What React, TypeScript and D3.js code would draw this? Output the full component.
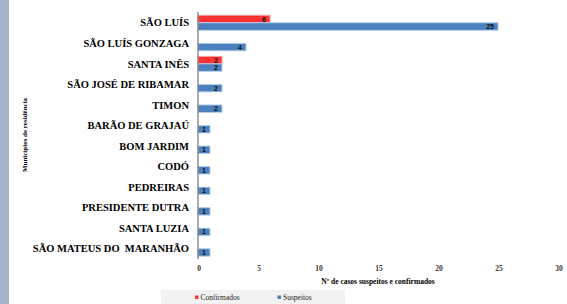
import React from "react";
import * as d3 from "d3";

const categories = [
  "SÃO LUÍS",
  "SÃO LUÍS GONZAGA",
  "SANTA INÊS",
  "SÃO JOSÉ DE RIBAMAR",
  "TIMON",
  "BARÃO DE GRAJAÚ",
  "BOM JARDIM",
  "CODÓ",
  "PEDREIRAS",
  "PRESIDENTE DUTRA",
  "SANTA LUZIA",
  "SÃO MATEUS DO  MARANHÃO",
];
const confirmados: (number | null)[] = [6, null, 2, null, null, null, null, null, null, null, null, null];
const suspeitos: (number | null)[] = [25, 4, 2, 2, 2, 1, 1, 1, 1, 1, 1, 1];
const seriesNames = ["Confirmados", "Suspeitos"];
const xTicks = [0, 5, 10, 15, 20, 25, 30];

const W = 567;
const H = 304;
const colors: Record<string, string> = { Confirmados: "#ff3333", Suspeitos: "#4a80bd" };
const strokes: Record<string, string> = { Confirmados: "#ffa0a0", Suspeitos: "#b9d0ea" };

export default function App() {
  const x = d3.scaleLinear().domain([0, 30]).range([198, 558]);
  const y = d3.scaleBand<string>().domain(categories).range([12.5, 259]).padding(0);
  const inner = d3
    .scaleBand<string>()
    .domain(seriesNames)
    .range([0, y.bandwidth()])
    .paddingOuter(0.37)
    .paddingInner(0);
  const serif = "Liberation Serif, Tinos, Times New Roman, Noto Serif, DejaVu Serif, serif";
  const sans = "Liberation Sans, Arial, sans-serif";
  const data: Record<string, (number | null)[]> = { Confirmados: confirmados, Suspeitos: suspeitos };

  return (
    <div style={{ position: "fixed", left: 0, top: 0, width: W, height: H, background: "#fff" }}>
      <svg width={W} height={H} style={{ display: "block", fontFamily: serif }}>
        <rect x={0} y={0} width={W} height={H} fill="#ffffff" />
        <rect x={0} y={0} width={9} height={H} fill="#a0b4c8" />
        {categories.map((c) => (
          <text
            key={c}
            x={189}
            y={(y(c) ?? 0) + y.bandwidth() / 2}
            dy="0.35em"
            textAnchor="end"
            style={{ fontFamily: serif, whiteSpace: "pre" }}
            fontWeight="bold"
            fontSize={10.5}
            fill="#000"
          >
            {c}
          </text>
        ))}
        {seriesNames.map((s) =>
          categories.map((c, i) => {
            const v = data[s][i];
            if (v == null) return null;
            const by = (y(c) ?? 0) + (inner(s) ?? 0);
            const bh = inner.bandwidth();
            return (
              <g key={s + c}>
                <rect
                  x={x(0)}
                  y={by}
                  width={x(v) - x(0)}
                  height={bh}
                  fill={colors[s]}
                  stroke={strokes[s]}
                  strokeWidth={0.9}
                />
                <text
                  x={x(v) - 4}
                  y={by + bh / 2}
                  dy="0.36em"
                  textAnchor="end"
                  style={{ fontFamily: sans }}
                  fontWeight="bold"
                  fontSize={7}
                  fill="#111"
                >
                  {v}
                </text>
              </g>
            );
          })
        )}
        <line x1={x(0)} x2={x(0)} y1={12} y2={259} stroke="#7f7f7f" strokeWidth={1.3} />
        {xTicks.map((t) => (
          <text
            key={t}
            x={x(t) + 1}
            y={268}
            dy="0.35em"
            textAnchor="middle"
            style={{ fontFamily: serif }}
            fontWeight="bold"
            fontSize={7.5}
            fill="#333"
          >
            {t}
          </text>
        ))}
        <text
          x={378}
          y={281}
          dy="0.35em"
          textAnchor="middle"
          style={{ fontFamily: serif }}
          fontWeight="bold"
          fontSize={7.5}
          fill="#000"
        >
          Nº de casos suspeitos e confirmados
        </text>
        <text
          transform={`translate(25,135) rotate(-90)`}
          dy="0.35em"
          textAnchor="middle"
          style={{ fontFamily: serif }}
          fontWeight="bold"
          fontSize={7}
          fill="#000"
        >
          Municípios de residência
        </text>
        <rect x={161} y={290} width={184} height={14} fill="#f2f2f2" />
        {seriesNames.map((s, i) => {
          const lx = i === 0 ? 195 : 277.5;
          return (
            <g key={s}>
              <rect x={lx} y={295.5} width={3.5} height={3.5} fill={colors[s]} />
              <text
                x={lx + 5.5}
                y={297.5}
                dy="0.35em"
                style={{ fontFamily: serif }}
                fontSize={7.5}
                fill="#222"
              >
                {s}
              </text>
            </g>
          );
        })}
      </svg>
    </div>
  );
}
